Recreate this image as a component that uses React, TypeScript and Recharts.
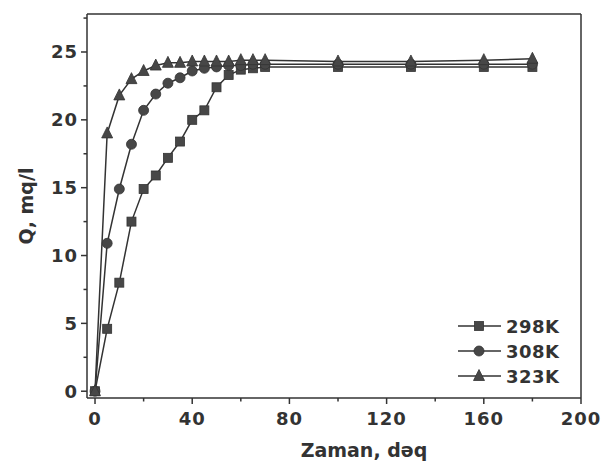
import React from 'react'
import {
  LineChart,
  Line,
  XAxis,
  YAxis,
  Legend,
  ReferenceLine,
} from 'recharts'

// time, minutes
const time = [0, 5, 10, 15, 20, 25, 30, 35, 40, 45, 50, 55, 60, 65, 70, 100, 130, 160, 180]

// adsorption Q, mg/l
const q298 = [0, 4.6, 8.0, 12.5, 14.9, 15.9, 17.2, 18.4, 20.0, 20.7, 22.4, 23.3, 23.7, 23.8, 23.9, 23.9, 23.9, 23.9, 23.9]
const q308 = [0, 10.9, 14.9, 18.2, 20.7, 21.9, 22.7, 23.1, 23.6, 23.8, 23.9, 24.0, 24.0, 24.1, 24.1, 24.1, 24.1, 24.1, 24.1]
const q323 = [0, 19.0, 21.8, 23.0, 23.6, 24.0, 24.2, 24.2, 24.3, 24.3, 24.3, 24.3, 24.4, 24.4, 24.4, 24.3, 24.3, 24.4, 24.5]

const xTicks = [0, 20, 40, 60, 80, 100, 120, 140, 160, 180, 200]
const yTicks = [0, 2.5, 5, 7.5, 10, 12.5, 15, 17.5, 20, 22.5, 25, 27.5]
const xDomain = [-3.3, 200]
const yDomain = [-0.5, 27.8]

const seriesNames = ['298K', '308K', '323K']

const data = time.map((t, i) => ({
  t,
  s298: q298[i],
  s308: q308[i],
  s323: q323[i],
}))

const INK = '#333'
const MARK = '#474747'
const FONT = 'DejaVu Sans, sans-serif'

const marker = (kind: string, cx: number, cy: number, key?: string) => {
  if (kind === 'square') {
    return <rect key={key} x={cx - 4.5} y={cy - 4.5} width={9} height={9} fill={MARK} stroke={INK} strokeWidth={0.8} />
  }
  if (kind === 'circle') {
    return <circle key={key} cx={cx} cy={cy} r={5} fill={MARK} stroke={INK} strokeWidth={0.8} />
  }
  return (
    <polygon
      key={key}
      points={`${cx},${cy - 6.5} ${cx + 5.5},${cy + 4.5} ${cx - 5.5},${cy + 4.5}`}
      fill={MARK}
      stroke={INK}
      strokeWidth={0.8}
    />
  )
}

const dotFor = (kind: string) => (props: any) =>
  marker(kind, props.cx, props.cy, `${kind}-${props.index}`)

const XTick = (props: any) => {
  const { x, y, payload } = props
  const major = payload.value % 40 === 0
  return (
    <g>
      <line x1={x} x2={x} y1={y} y2={y + (major ? 6 : 3.5)} stroke={INK} strokeWidth={1.5} />
      {major && (
        <text x={x} y={y + 27} textAnchor='middle' fontFamily={FONT} fontWeight='bold' fontSize={18} letterSpacing={1} fill={INK}>
          {payload.value}
        </text>
      )}
    </g>
  )
}

const YTick = (props: any) => {
  const { x, y, payload } = props
  const major = payload.value % 5 === 0
  return (
    <g>
      <line x1={x} x2={x - (major ? 6 : 3.5)} y1={y} y2={y} stroke={INK} strokeWidth={1.5} />
      {major && (
        <text x={x - 9} y={y + 6.5} textAnchor='end' fontFamily={FONT} fontWeight='bold' fontSize={18} letterSpacing={1} fill={INK}>
          {payload.value}
        </text>
      )}
    </g>
  )
}

const kinds = ['square', 'circle', 'triangle']

const LegendBox = () => (
  <svg width={130} height={80}>
    {seriesNames.map((name, i) => {
      const cy = 12 + i * 25
      return (
        <g key={name}>
          <line x1={4} x2={47} y1={cy} y2={cy} stroke={INK} strokeWidth={1.5} />
          {marker(kinds[i], 25, cy)}
          <text x={52} y={cy + 6.5} fontFamily={FONT} fontWeight='bold' fontSize={18} letterSpacing={0.5} fill={INK}>
            {name}
          </text>
        </g>
      )
    })}
  </svg>
)

export default function App() {
  return (
    <div style={{ position: 'absolute', left: 0, top: 0, background: '#fff' }}>
      <LineChart width={601} height={467} data={data} margin={{ top: 14, right: 20, bottom: 0, left: 0 }}>
        <XAxis
          dataKey='t'
          type='number'
          domain={xDomain}
          ticks={xTicks}
          interval={0}
          height={69}
          tickSize={0}
          tickMargin={0}
          tickLine={false}
          tick={<XTick />}
          stroke={INK}
          strokeWidth={1.5}
          label={{
            content: (p: any) => (
              <text
                x={p.viewBox.x + p.viewBox.width / 2 + 30}
                y={p.viewBox.y + 59}
                textAnchor='middle'
                fontFamily={FONT}
                fontWeight='bold'
                fontSize={19}
                fill={INK}
              >
                Zaman, dəq
              </text>
            ),
          }}
        />
        <YAxis
          type='number'
          domain={yDomain}
          ticks={yTicks}
          interval={0}
          width={87}
          tickSize={0}
          tickMargin={0}
          tickLine={false}
          tick={<YTick />}
          stroke={INK}
          strokeWidth={1.5}
          label={{
            content: (p: any) => {
              const cx = 26
              const cy = p.viewBox.y + p.viewBox.height / 2
              return (
                <text
                  x={cx}
                  y={cy}
                  transform={`rotate(-90 ${cx} ${cy})`}
                  textAnchor='middle'
                  dominantBaseline='central'
                  fontFamily={FONT}
                  fontWeight='bold'
                  fontSize={19}
                  fill={INK}
                >
                  Q, mq/l
                </text>
              )
            },
          }}
        />
        {/* plot frame: top and right edges */}
        <ReferenceLine y={yDomain[1]} stroke={INK} strokeWidth={1.5} />
        <ReferenceLine x={xDomain[1]} stroke={INK} strokeWidth={1.5} />
        <Legend
          layout='vertical'
          align='center'
          verticalAlign='middle'
          content={<LegendBox />}
          wrapperStyle={{ left: 454, top: 314, width: 130, height: 80 }}
        />
        <Line dataKey='s298' name={seriesNames[0]} stroke={INK} strokeWidth={1.5} dot={dotFor('square')} isAnimationActive={false} />
        <Line dataKey='s308' name={seriesNames[1]} stroke={INK} strokeWidth={1.5} dot={dotFor('circle')} isAnimationActive={false} />
        <Line dataKey='s323' name={seriesNames[2]} stroke={INK} strokeWidth={1.5} dot={dotFor('triangle')} isAnimationActive={false} />
      </LineChart>
    </div>
  )
}
